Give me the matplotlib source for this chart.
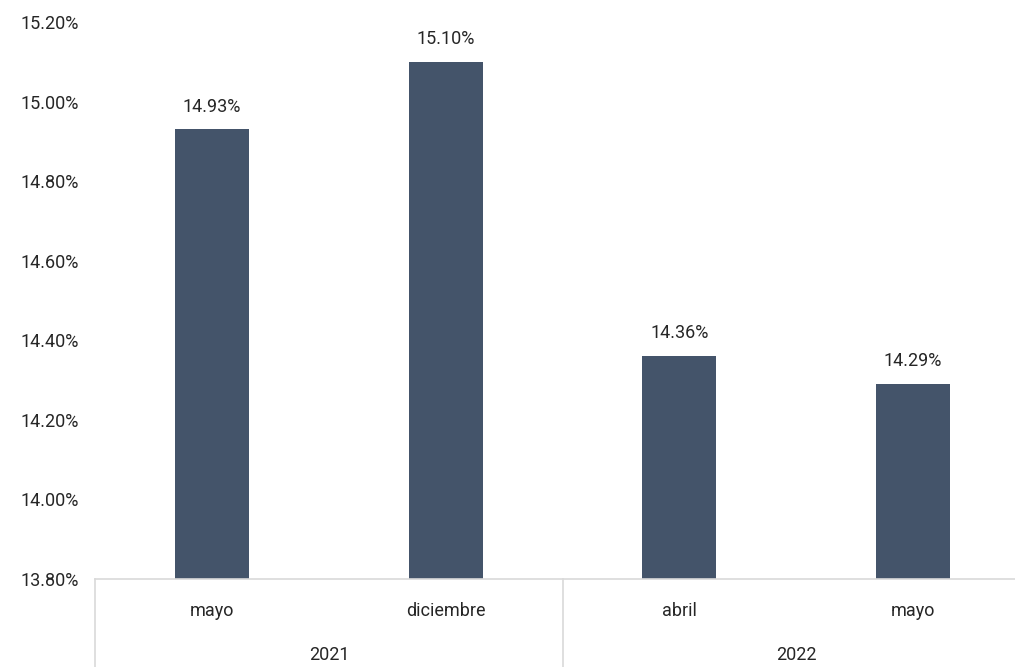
import matplotlib
matplotlib.use("Agg")
import matplotlib.pyplot as plt
from matplotlib.ticker import FuncFormatter, MultipleLocator
import matplotlib.transforms as mtransforms

months = ["mayo", "diciembre", "abril", "mayo"]
years = ["2021", "2022"]
year_groups = [(0, 1), (2, 3)]
values = [14.93, 15.10, 14.36, 14.29]

W, H = 1015, 667
fig = plt.figure(figsize=(W / 100, H / 100), dpi=100)
left, right, top, bottom = 95.25, 1029.75, 22, 579
ax = fig.add_axes([left / W, 1 - bottom / H, (right - left) / W, (bottom - top) / H])

font = ["Roboto", "DejaVu Sans"]
tc = "#262626"
bar_color = "#44546A"
grid_c = "#D9D9D9"
fs = 13

x = list(range(len(values)))
bars = ax.bar(x, values, width=0.317, color=bar_color, bottom=0)
ax.set_ylim(13.8, 15.2)
ax.set_xlim(-0.5, len(values) - 0.5)
ax.yaxis.set_major_locator(MultipleLocator(0.2))
ax.yaxis.set_major_formatter(FuncFormatter(lambda v, p: f"{v:.2f}%"))
for s in ["top", "right", "left"]:
    ax.spines[s].set_visible(False)
ax.spines["bottom"].set_color(grid_c)
ax.spines["bottom"].set_linewidth(1.2)
ax.tick_params(axis="y", length=0, pad=11.5, labelsize=fs, labelcolor=tc)
for lbl in ax.get_yticklabels():
    lbl.set_fontfamily(font)
ax.set_xticks([])

for xi, v in zip(x, values):
    ax.annotate(f"{v:.2f}%", (xi, v), xytext=(0, 10), textcoords="offset points",
                ha="center", va="bottom", fontsize=fs, color=tc, family=font)

trans = mtransforms.blended_transform_factory(ax.transData, ax.transAxes)
ah = bottom - top
for xi, m in zip(x, months):
    ax.text(xi, -(611 - bottom) / ah, m, transform=trans, ha="center", va="center",
            fontsize=fs, color=tc, family=font)
for (a, b), yr in zip(year_groups, years):
    ax.text((a + b) / 2, -(655 - bottom) / ah, yr, transform=trans, ha="center",
            va="center", fontsize=fs, color=tc, family=font)

seps = [-0.5, 1.5, 3.5]
for s in seps:
    ax.plot([s, s], [0, -(H - bottom) / ah], transform=trans, color=grid_c,
            lw=1.2, clip_on=False)

fig.savefig("out.png", dpi=100)
